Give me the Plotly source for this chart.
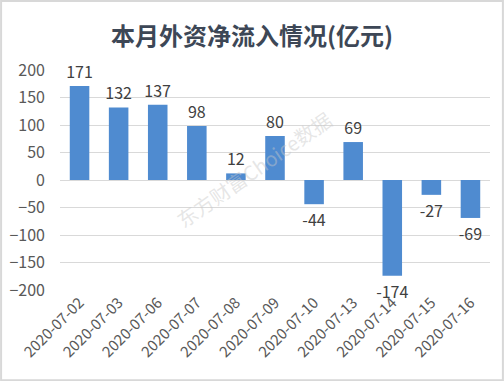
import plotly.graph_objects as go

dates = ["2020-07-02", "2020-07-03", "2020-07-06", "2020-07-07", "2020-07-08", "2020-07-09",
         "2020-07-10", "2020-07-13", "2020-07-14", "2020-07-15", "2020-07-16"]
values = [171, 132, 137, 98, 12, 80, -44, 69, -174, -27, -69]
y_ticks = [200, 150, 100, 50, 0, -50, -100, -150, -200]

fig = go.Figure(go.Bar(
    x=dates, y=values,
    marker=dict(color="#4f8bd0", line=dict(width=0)),
    width=0.5,
    text=[str(v) for v in values],
    textposition="outside",
    constraintext="none",
    textfont=dict(size=16, color="#404040", family="Noto Sans CJK SC"),
    cliponaxis=False,
))

fig.update_layout(
    width=504, height=381,
    margin=dict(l=60, r=14, t=70, b=91, autoexpand=False),
    paper_bgcolor="white", plot_bgcolor="white",
    title=dict(text="<b>本月外资净流入情况(亿元)</b>", x=0.5, xanchor="center", y=0.903, yanchor="middle",
               font=dict(size=24, color="#3d4756", family="Noto Sans CJK SC")),
    font=dict(family="Noto Sans CJK SC", color="#595959"),
    showlegend=False,
    xaxis=dict(type="category", tickangle=-45, tickfont=dict(size=15, color="#595959"),
               showgrid=False, showline=False, ticks="", automargin=False),
    yaxis=dict(range=[-200, 200], tickvals=y_ticks, tickfont=dict(size=16, color="#595959"),
               showgrid=True, gridcolor="#d9d9d9", gridwidth=1, zeroline=True, zerolinecolor="#d9d9d9",
               zerolinewidth=1, showline=False, ticks="", ticklabelstandoff=14, automargin=False),
    annotations=[dict(text="东方财富Choice数据", x=0.45, y=0.55, xref="paper", yref="paper",
                      showarrow=False, textangle=-35, font=dict(size=20, color="rgba(200,200,200,0.45)"))],
    shapes=[dict(type="rect", xref="paper", yref="paper", x0=-0.137, x1=1.03, y0=-0.41, y1=1.314,
                 line=dict(color="#d8d8d8", width=2))],
)

fig.write_html("out.html", config={"displayModeBar": False},
               post_script="document.body.style.margin='0';")
